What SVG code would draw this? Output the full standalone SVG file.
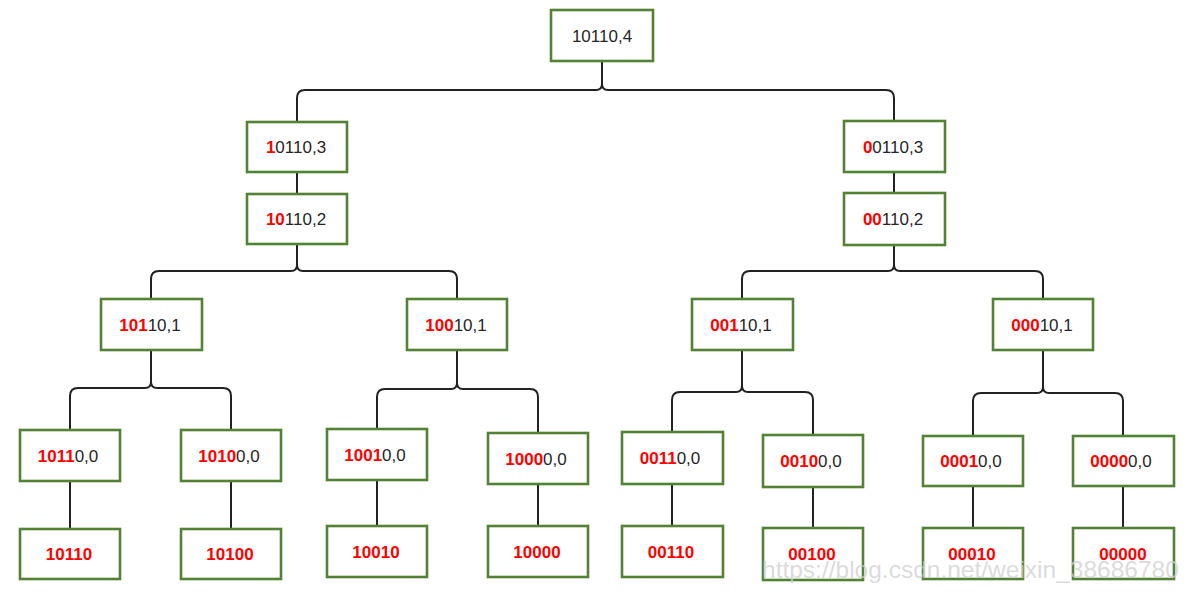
<svg xmlns="http://www.w3.org/2000/svg" width="1201" height="600" viewBox="0 0 1201 600">
<style>
.box{fill:#fff;stroke:#538135;stroke-width:2.6}
.edge{fill:none;stroke:#222;stroke-width:2}
.lbl{font-family:"Liberation Sans",Arial,sans-serif;font-size:17px;fill:#262626;text-anchor:middle}
.r{fill:#ff0000;font-weight:bold}
.wm{font-family:"Liberation Sans",Arial,sans-serif;font-size:24.5px;fill:#cfcfcf;fill-opacity:0.75}
</style>
<rect width="1201" height="600" fill="#fff"/>
<g id="connectors" class="edge">
<path d="M602,61 V84 Q602,90 596,90 H305 Q297,90 297,98 V122"/>
<path d="M602,61 V84 Q602,90 608,90 H886 Q894,90 894,98 V121"/>
<path d="M297,172 V194"/>
<path d="M894,172 V193"/>
<path d="M297,244 V265 Q297,271 291,271 H159 Q151,271 151,279 V299"/>
<path d="M297,244 V265 Q297,271 303,271 H449 Q457,271 457,279 V299"/>
<path d="M894,245 V265 Q894,271 888,271 H750 Q742,271 742,279 V299"/>
<path d="M894,245 V265 Q894,271 900,271 H1035 Q1043,271 1043,279 V299"/>
<path d="M151,350 V382 Q151,388 145,388 H78 Q70,388 70,396 V430"/>
<path d="M151,350 V382 Q151,388 157,388 H223 Q231,388 231,396 V430"/>
<path d="M457,350 V383 Q457,389 451,389 H385 Q377,389 377,397 V429"/>
<path d="M457,350 V383 Q457,389 463,389 H530 Q538,389 538,397 V433"/>
<path d="M742,350 V386 Q742,392 736,392 H680 Q672,392 672,400 V432"/>
<path d="M742,350 V386 Q742,392 748,392 H805 Q813,392 813,400 V435"/>
<path d="M1043,350 V387 Q1043,393 1037,393 H981 Q973,393 973,401 V436"/>
<path d="M1043,350 V387 Q1043,393 1049,393 H1115 Q1123,393 1123,401 V436"/>
<path d="M70,481 V529"/>
<path d="M231,481 V529"/>
<path d="M377,480 V526"/>
<path d="M538,484 V526"/>
<path d="M672,484 V526"/>
<path d="M813,487 V528"/>
<path d="M973,486 V528"/>
<path d="M1123,486 V528"/>
</g>
<g id="n_root"><rect class="box" x="551" y="10" width="102" height="51"/><text class="lbl" x="602" y="41.5">10110,4</text></g>
<g id="n_1a"><rect class="box" x="247" y="122" width="100" height="50"/><text class="lbl" x="296" y="153"><tspan class="r">1</tspan>0110,3</text></g>
<g id="n_2a"><rect class="box" x="247" y="194" width="100" height="50"/><text class="lbl" x="296" y="225"><tspan class="r">10</tspan>110,2</text></g>
<g id="n_1b"><rect class="box" x="844" y="121" width="101" height="51"/><text class="lbl" x="893" y="152.5"><tspan class="r">0</tspan>0110,3</text></g>
<g id="n_2b"><rect class="box" x="844" y="193" width="101" height="52"/><text class="lbl" x="893" y="225"><tspan class="r">00</tspan>110,2</text></g>
<g id="n_101"><rect class="box" x="101" y="299" width="101" height="51"/><text class="lbl" x="150" y="330.5"><tspan class="r">101</tspan>10,1</text></g>
<g id="n_100"><rect class="box" x="407" y="299" width="100" height="51"/><text class="lbl" x="456" y="330.5"><tspan class="r">100</tspan>10,1</text></g>
<g id="n_001"><rect class="box" x="692" y="299" width="101" height="51"/><text class="lbl" x="741" y="330.5"><tspan class="r">001</tspan>10,1</text></g>
<g id="n_000"><rect class="box" x="993" y="299" width="100" height="51"/><text class="lbl" x="1042" y="330.5"><tspan class="r">000</tspan>10,1</text></g>
<g id="n_1011"><rect class="box" x="20" y="430" width="100" height="51"/><text class="lbl" x="68" y="461.5"><tspan class="r">1011</tspan>0,0</text></g>
<g id="n_1010"><rect class="box" x="181" y="430" width="100" height="51"/><text class="lbl" x="229" y="461.5"><tspan class="r">1010</tspan>0,0</text></g>
<g id="n_1001"><rect class="box" x="327" y="429" width="100" height="51"/><text class="lbl" x="375" y="460.5"><tspan class="r">1001</tspan>0,0</text></g>
<g id="n_1000"><rect class="box" x="488" y="433" width="100" height="51"/><text class="lbl" x="536" y="464.5"><tspan class="r">1000</tspan>0,0</text></g>
<g id="n_0011"><rect class="box" x="622" y="432" width="101" height="52"/><text class="lbl" x="670" y="464"><tspan class="r">0011</tspan>0,0</text></g>
<g id="n_0010"><rect class="box" x="763" y="435" width="100" height="52"/><text class="lbl" x="811" y="467"><tspan class="r">0010</tspan>0,0</text></g>
<g id="n_0001"><rect class="box" x="923" y="436" width="100" height="50"/><text class="lbl" x="971" y="467"><tspan class="r">0001</tspan>0,0</text></g>
<g id="n_0000"><rect class="box" x="1073" y="436" width="101" height="50"/><text class="lbl" x="1121" y="467"><tspan class="r">0000</tspan>0,0</text></g>
<g id="n_10110"><rect class="box" x="20" y="529" width="100" height="50"/><text class="lbl r" x="69" y="560">10110</text></g>
<g id="n_10100"><rect class="box" x="181" y="529" width="100" height="50"/><text class="lbl r" x="230" y="560">10100</text></g>
<g id="n_10010"><rect class="box" x="327" y="526" width="100" height="51"/><text class="lbl r" x="376" y="557.5">10010</text></g>
<g id="n_10000"><rect class="box" x="488" y="526" width="100" height="51"/><text class="lbl r" x="537" y="557.5">10000</text></g>
<g id="n_00110"><rect class="box" x="622" y="526" width="101" height="51"/><text class="lbl r" x="671" y="557.5">00110</text></g>
<g id="n_00100"><rect class="box" x="763" y="528" width="100" height="52"/><text class="lbl r" x="812" y="560">00100</text></g>
<g id="n_00010"><rect class="box" x="923" y="528" width="100" height="51"/><text class="lbl r" x="972" y="559.5">00010</text></g>
<g id="n_00000"><rect class="box" x="1073" y="528" width="101" height="51"/><text class="lbl r" x="1123" y="559.5">00000</text></g>
<text class="wm" x="762" y="578">https://blog.csdn.net/weixin_38686780</text>
</svg>
